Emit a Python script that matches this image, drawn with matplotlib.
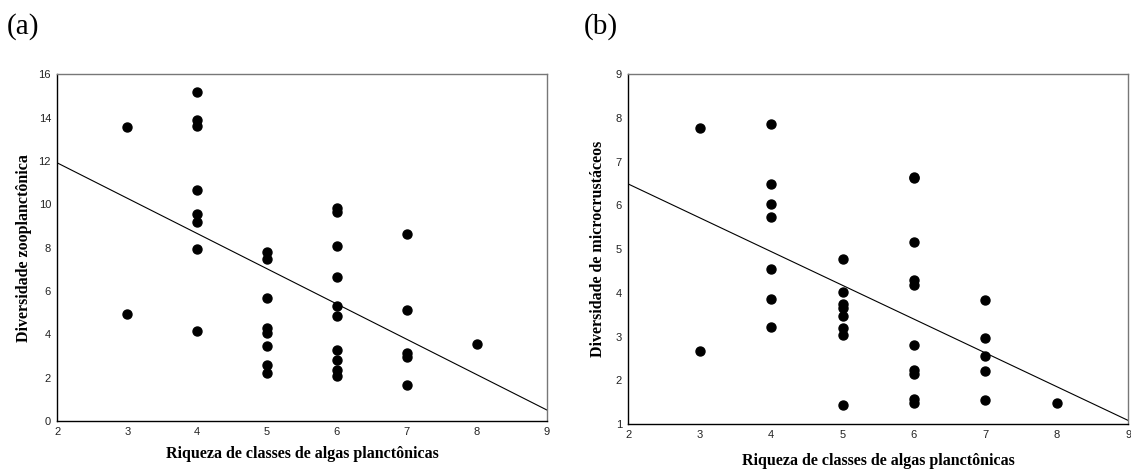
import matplotlib
matplotlib.use("Agg")
import matplotlib.pyplot as plt

# (a) diversidade zooplanctônica x riqueza de classes de algas
x_a = [3, 3,
       4, 4, 4, 4, 4, 4, 4, 4,
       5, 5, 5, 5, 5, 5, 5, 5,
       6, 6, 6, 6, 6, 6, 6, 6, 6, 6,
       7, 7, 7, 7, 7,
       8]
y_a = [13.57, 4.93,
       15.18, 13.91, 13.60, 10.65, 9.56, 9.19, 7.95, 4.16,
       7.79, 7.48, 5.69, 4.29, 4.07, 3.46, 2.57, 2.20,
       9.84, 9.65, 8.07, 6.64, 5.32, 4.83, 3.26, 2.81, 2.35, 2.09,
       8.64, 5.12, 3.12, 2.97, 1.66,
       3.56]
line_a_x = [2, 9]
line_a_y = [11.91, 0.51]

# (b) diversidade de microcrustáceos
x_b = [3, 3,
       4, 4, 4, 4, 4, 4, 4,
       5, 5, 5, 5, 5, 5, 5, 5,
       6, 6, 6, 6, 6, 6, 6, 6, 6, 6,
       7, 7, 7, 7, 7,
       8]
y_b = [7.77, 2.66,
       7.87, 6.48, 6.03, 5.74, 4.55, 3.85, 3.23,
       4.78, 4.01, 3.75, 3.65, 3.46, 3.20, 3.03, 1.43,
       6.63, 6.66, 5.17, 4.29, 4.17, 2.80, 2.24, 2.14, 1.58, 1.47,
       3.84, 2.97, 2.56, 2.21, 1.56,
       1.47]
line_b_x = [2, 9]
line_b_y = [6.49, 1.08]

xlabel = "Riqueza de classes de algas planctônicas"

fig = plt.figure(figsize=(11.31, 4.71), dpi=100)

serif = "Liberation Serif"
sans = "Liberation Sans"


def style_axes(ax, xlim, ylim, yticks):
    ax.set_xlim(*xlim)
    ax.set_ylim(*ylim)
    ax.set_xticks(range(2, 10))
    ax.set_yticks(yticks)
    ax.tick_params(length=0, pad=4.5, labelsize=8, labelcolor="#222222")
    for lab in ax.get_xticklabels() + ax.get_yticklabels():
        lab.set_family(sans)
    ax.spines["left"].set_color("black")
    ax.spines["bottom"].set_color("black")
    ax.spines["top"].set_color("#777777")
    ax.spines["right"].set_color("#777777")
    for s in ax.spines.values():
        s.set_linewidth(1.0)


ax1 = fig.add_axes([0.0507, 0.1062, 0.4327, 0.736])
ax1.scatter(x_a, y_a, s=42, color="black", zorder=3, clip_on=False)
ax1.plot(line_a_x, line_a_y, color="black", lw=0.8)
style_axes(ax1, (2, 9), (0, 16), range(0, 17, 2))
ax1.set_ylabel("Diversidade zooplanctônica", family=serif, fontweight="bold",
               fontsize=11.5, labelpad=5)
ax1.set_xlabel(xlabel, family=serif, fontweight="bold", fontsize=11.5, labelpad=6)

ax2 = fig.add_axes([0.5555, 0.0998, 0.4421, 0.7425])
ax2.scatter(x_b, y_b, s=42, color="black", zorder=3, clip_on=False)
ax2.plot(line_b_x, line_b_y, color="black", lw=0.8)
style_axes(ax2, (2, 9), (1, 9), range(1, 10))
ax2.set_ylabel("Diversidade de microcrustáceos", family=serif, fontweight="bold",
               fontsize=11.5, labelpad=7)
ax2.set_xlabel(xlabel, family=serif, fontweight="bold", fontsize=11.5, labelpad=9)

fig.text(0.006, 0.943, "(a)", family=serif, fontsize=21, va="center")
fig.text(0.516, 0.943, "(b)", family=serif, fontsize=21, va="center")

fig.savefig("out.png", dpi=100)
